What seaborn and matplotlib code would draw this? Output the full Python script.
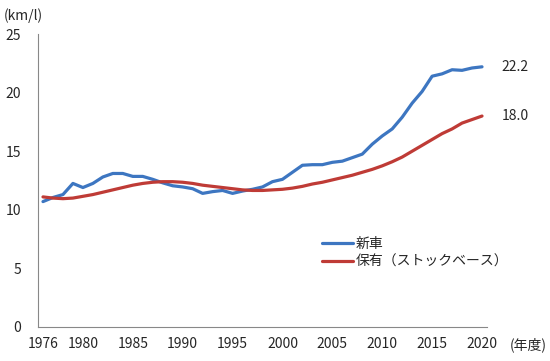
import numpy as np
import pandas as pd
import matplotlib
matplotlib.use("Agg")
import matplotlib.pyplot as plt
import seaborn as sns

# =======================
# Data
# =======================
years = list(range(1976, 2021))

new_cars = [10.7, 11.05, 11.3, 12.25, 11.9, 12.25, 12.8, 13.1, 13.1, 12.85,
            12.85, 12.6, 12.3, 12.05, 11.95, 11.8, 11.4, 11.55, 11.65, 11.4,
            11.6, 11.75, 11.95, 12.4, 12.6, 13.2, 13.8, 13.85, 13.85, 14.05,
            14.15, 14.45, 14.75, 15.6, 16.3, 16.9, 17.9, 19.1, 20.1, 21.4,
            21.6, 21.95, 21.9, 22.1, 22.2]

stock = [11.1, 11.0, 10.95, 11.0, 11.15, 11.3, 11.5, 11.7, 11.9, 12.1,
         12.25, 12.35, 12.4, 12.4, 12.35, 12.25, 12.1, 12.0, 11.9, 11.8,
         11.7, 11.65, 11.65, 11.7, 11.75, 11.85, 12.0, 12.2, 12.35, 12.55,
         12.75, 12.95, 13.2, 13.45, 13.75, 14.1, 14.5, 15.0, 15.5, 16.0,
         16.5, 16.9, 17.4, 17.7, 18.0]

series_names = ["新車", "保有（ストックベース）"]
series_colors = ["#3D76C1", "#BF3B36"]
end_labels = ["22.2", "18.0"]

x_labels = [1976, 1980, 1985, 1990, 1995, 2000, 2005, 2010, 2015, 2020]
y_ticks = [0, 5, 10, 15, 20, 25]

df = pd.DataFrame({
    "year": years * 2,
    "value": new_cars + stock,
    "series": [series_names[0]] * len(years) + [series_names[1]] * len(years),
})

FS = 10

# =======================
# Plot
# =======================
sns.set_style("white")
plt.rcParams["font.family"] = ["Noto Sans CJK JP", "DejaVu Sans"]

fig = plt.figure(figsize=(5.5, 3.61), dpi=100)
ax = fig.add_axes([38 / 550, 34 / 361, (487 - 38) / 550, (327 - 34) / 361])

sns.lineplot(data=df, x="year", y="value", hue="series",
             palette=dict(zip(series_names, series_colors)),
             linewidth=2.3, ax=ax, legend=False)

ax.set_xlim(1975.5, 2020.5)
ax.set_ylim(0, 25)
ax.set_xticks(x_labels)
ax.set_xticklabels([str(y) for y in x_labels], fontsize=FS)
ax.set_xticks(np.arange(1975.5, 2021, 1), minor=True)
ax.set_yticks(y_ticks)
ax.set_yticklabels([str(v) for v in y_ticks], fontsize=FS)
ax.tick_params(axis="x", which="major", length=0, pad=7)
ax.tick_params(axis="x", which="minor", length=4, width=0.7, color="#888888", direction="out")
ax.tick_params(axis="y", length=4, width=0.7, color="#888888", direction="out", pad=8)
ax.set_xlabel("")
ax.set_ylabel("")

for side in ["top", "right"]:
    ax.spines[side].set_visible(False)
for side in ["left", "bottom"]:
    ax.spines[side].set_color("#888888")
    ax.spines[side].set_linewidth(0.8)

# end labels
for vals, lab in zip([new_cars, stock], end_labels):
    ax.annotate(lab, xy=(years[-1], vals[-1]), xytext=(14, 0),
                textcoords="offset points", fontsize=FS, va="center", ha="left",
                annotation_clip=False)

# unit texts
fig.text(4 / 550, 1 - 16 / 361, "(km/l)", fontsize=FS, va="center", ha="left")
fig.text(547 / 550, 1 - 345 / 361, "(年度)", fontsize=FS, va="center", ha="right")

# legend
handles = [plt.Line2D([], [], color=c, linewidth=2.3) for c in series_colors]
ax.legend(handles, series_names, loc="upper left", bbox_to_anchor=(0.605, 0.35),
          frameon=False, fontsize=FS, handlelength=2.2, handletextpad=0.2,
          labelspacing=0.25)

plt.savefig("out.png", dpi=100)
plt.close()
